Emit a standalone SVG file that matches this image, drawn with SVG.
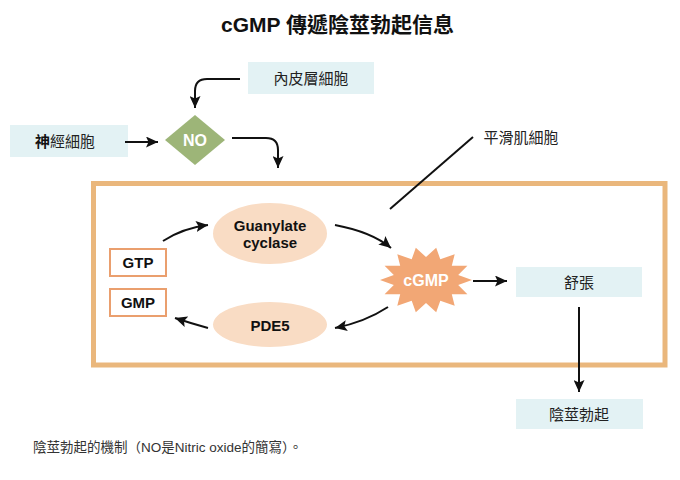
<svg xmlns="http://www.w3.org/2000/svg" width="680" height="480" viewBox="0 0 680 480">
<style>
.cjk{font-family:"Liberation Sans","Noto Sans CJK TC",sans-serif;font-size:15px;fill:#222;text-anchor:middle}
.lbl{font-family:"Liberation Sans","Noto Sans CJK TC",sans-serif;font-size:15px;font-weight:bold;fill:#111;text-anchor:middle}
.info{fill:#e3f2f4}
.peach{fill:#f9dcc4}
.sbox{fill:#fff;stroke:#ea9f6e;stroke-width:2}
.conn{fill:none;stroke:#111;stroke-width:2}
</style>
<defs>
<marker id="ah" markerUnits="userSpaceOnUse" markerWidth="13" markerHeight="11" refX="12" refY="5.5" orient="auto">
<path d="M0,0 L12,5.5 L0,11 L2.5,5.5 z" fill="#111"/>
</marker>
</defs>
<rect width="680" height="480" fill="#fff"/>
<text x="337.5" y="32" style="font-family:'Liberation Sans','Noto Sans CJK TC',sans-serif;font-size:21px;font-weight:bold;fill:#111;text-anchor:middle">cGMP 傳遞陰莖勃起信息</text>

<g id="smooth-muscle-box">
<rect x="93.5" y="183.5" width="571.5" height="181.5" fill="none" stroke="#eab77c" stroke-width="5"/>
</g>

<g id="endothelial">
<rect class="info" x="248" y="62" width="126" height="32"/>
<text class="cjk" x="311" y="84">內皮層細胞</text>
</g>
<g id="nerve">
<rect class="info" x="10" y="125" width="118" height="32"/>
<text class="cjk" x="65" y="147"><tspan font-weight="bold" fill="#111">神</tspan>經細胞</text>
</g>
<g id="no">
<polygon points="195,115 225,140 195,165 165,140" fill="#9db578"/>
<text x="195" y="146" style="font-family:'Liberation Sans',sans-serif;font-size:16px;font-weight:bold;fill:#fff;text-anchor:middle">NO</text>
</g>
<g id="smooth-muscle-label">
<text class="cjk" x="521" y="143">平滑肌細胞</text>
</g>
<g id="gtp">
<rect class="sbox" x="110" y="249" width="56" height="27"/>
<text class="lbl" x="138" y="268" font-size="16">GTP</text>
</g>
<g id="gmp">
<rect class="sbox" x="110" y="289" width="56" height="27"/>
<text class="lbl" x="138" y="308" font-size="16">GMP</text>
</g>
<g id="guanylate">
<ellipse class="peach" cx="270" cy="233.5" rx="57" ry="30.5"/>
<text class="lbl" x="270" y="231">Guanylate</text>
<text class="lbl" x="270" y="248">cyclase</text>
</g>
<g id="pde5">
<ellipse class="peach" cx="270" cy="324.5" rx="57" ry="22.5"/>
<text class="lbl" x="270" y="331">PDE5</text>
</g>
<g id="cgmp">
<polygon fill="#f2a775" points="472,280 458.2,285.1 467.4,294.3 451.8,294.3 454.7,305.8 440.3,300.7 436.2,312.2 426,303 415.8,312.2 411.7,300.7 397.3,305.8 400.2,294.3 384.6,294.3 393.8,285.1 380,280 393.8,274.9 384.6,265.7 400.2,265.7 397.3,254.2 411.7,259.3 415.8,247.8 426,257 436.2,247.8 440.3,259.3 454.7,254.2 451.8,265.7 467.4,265.7 458.2,274.9"/>
<text x="426" y="286" style="font-family:'Liberation Sans',sans-serif;font-size:16px;font-weight:bold;fill:#fff;text-anchor:middle">cGMP</text>
</g>
<g id="relax">
<rect class="info" x="516" y="267" width="126" height="30"/>
<text class="cjk" x="579" y="288">舒張</text>
</g>
<g id="erection">
<rect class="info" x="516" y="399" width="127" height="30"/>
<text class="cjk" x="579" y="420">陰莖勃起</text>
</g>

<g id="connectors">
<path class="conn" d="M240,79 L207,79 Q195,79 195,91 L195,108" marker-end="url(#ah)"/>
<path class="conn" d="M125,142 L158,142" marker-end="url(#ah)"/>
<path class="conn" d="M232,138 L266,138 Q278,138 278,150 L278,168" marker-end="url(#ah)"/>
<path class="conn" d="M163,241 Q183,228 208,225" marker-end="url(#ah)"/>
<path class="conn" d="M335,225 Q372,232 391,248" marker-end="url(#ah)"/>
<path class="conn" d="M388,307 Q365,322 335,328" marker-end="url(#ah)"/>
<path class="conn" d="M208,328 Q190,323 175,318" marker-end="url(#ah)"/>
<path class="conn" d="M473,281 L507,281" marker-end="url(#ah)"/>
<path class="conn" d="M579,307 L579,392" marker-end="url(#ah)"/>
<path class="conn" d="M473,137 L390,209"/>
</g>

<text x="33" y="452" style="font-family:'Liberation Sans','Noto Sans CJK TC',sans-serif;font-size:13.5px;fill:#333">陰莖勃起的機制（NO是Nitric oxide的簡寫）。</text>
</svg>
